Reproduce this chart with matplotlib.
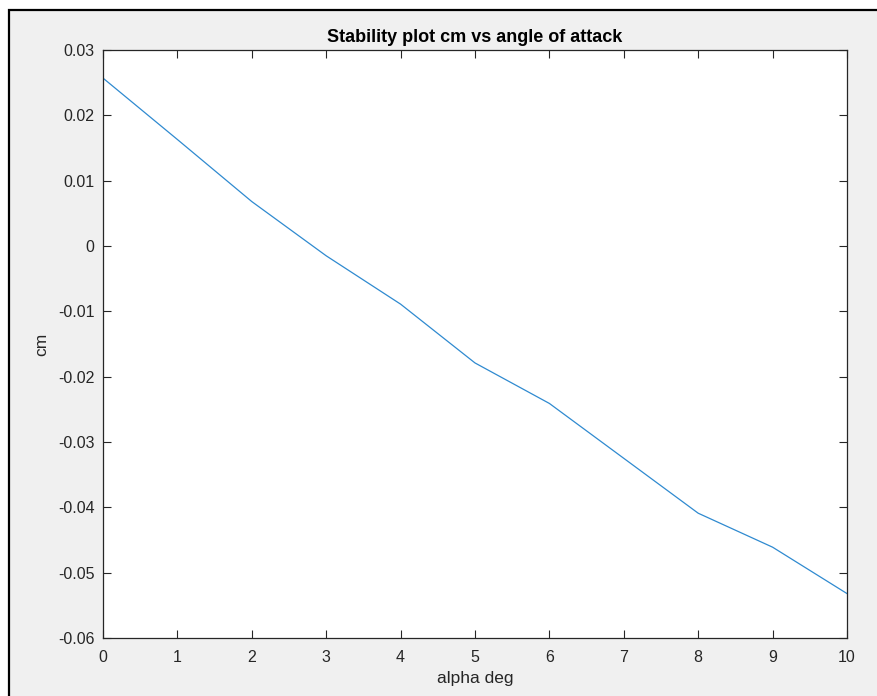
import matplotlib
matplotlib.use("Agg")
import matplotlib.pyplot as plt
from matplotlib.patches import Rectangle

# angle of attack (deg) and pitching moment coefficient
alpha = [0, 1, 2, 3, 4, 5, 6, 7, 8, 9, 10]
cm = [0.0257, 0.0163, 0.0068, -0.0015, -0.0089, -0.0179, -0.0241,
      -0.0325, -0.0409, -0.0461, -0.0532]

xticks = [0, 1, 2, 3, 4, 5, 6, 7, 8, 9, 10]
yticks = [0.03, 0.02, 0.01, 0, -0.01, -0.02, -0.03, -0.04, -0.05, -0.06]
ytick_labels = ["0.03", "0.02", "0.01", "0", "-0.01", "-0.02", "-0.03",
                "-0.04", "-0.05", "-0.06"]

plt.rcParams["font.family"] = ["Liberation Sans", "DejaVu Sans"]

W, H = 878, 696
fig = plt.figure(figsize=(W / 100, H / 100), dpi=100)
fig.patch.set_facecolor("white")

# grey window area with black frame (screenshot look)
fig.add_artist(Rectangle((9 / W, -0.1), 1.2, 1.1 - 10 / H,
                         transform=fig.transFigure, facecolor="#f0f0f0",
                         edgecolor="black", linewidth=1.6, zorder=0))

ax = fig.add_axes([103 / W, 1 - 638 / H, 744 / W, 588 / H])
ax.set_facecolor("white")
ax.plot(alpha, cm, color="#2f8ad0", linewidth=0.9)

ax.set_xlim(0, 10)
ax.set_ylim(-0.06, 0.03)
ax.set_xticks(xticks)
ax.set_yticks(yticks)
ax.set_yticklabels(ytick_labels)

ax.tick_params(axis="both", direction="in", length=6, width=0.8,
               colors="#262626", labelsize=11.5, top=True, right=True)
ax.tick_params(axis="x", pad=9)
ax.tick_params(axis="y", pad=6)
for side in ["left", "bottom", "right", "top"]:
    ax.spines[side].set_color("#262626")
    ax.spines[side].set_linewidth(0.9)

ax.set_title("Stability plot cm vs angle of attack", fontsize=13,
             fontweight="bold", color="black", pad=6)
ax.set_xlabel("alpha deg", fontsize=12.5, color="#262626", labelpad=4)
ax.set_ylabel("cm", fontsize=12.5, color="#262626", labelpad=6)

fig.savefig("out.png", dpi=100, facecolor=fig.get_facecolor())
